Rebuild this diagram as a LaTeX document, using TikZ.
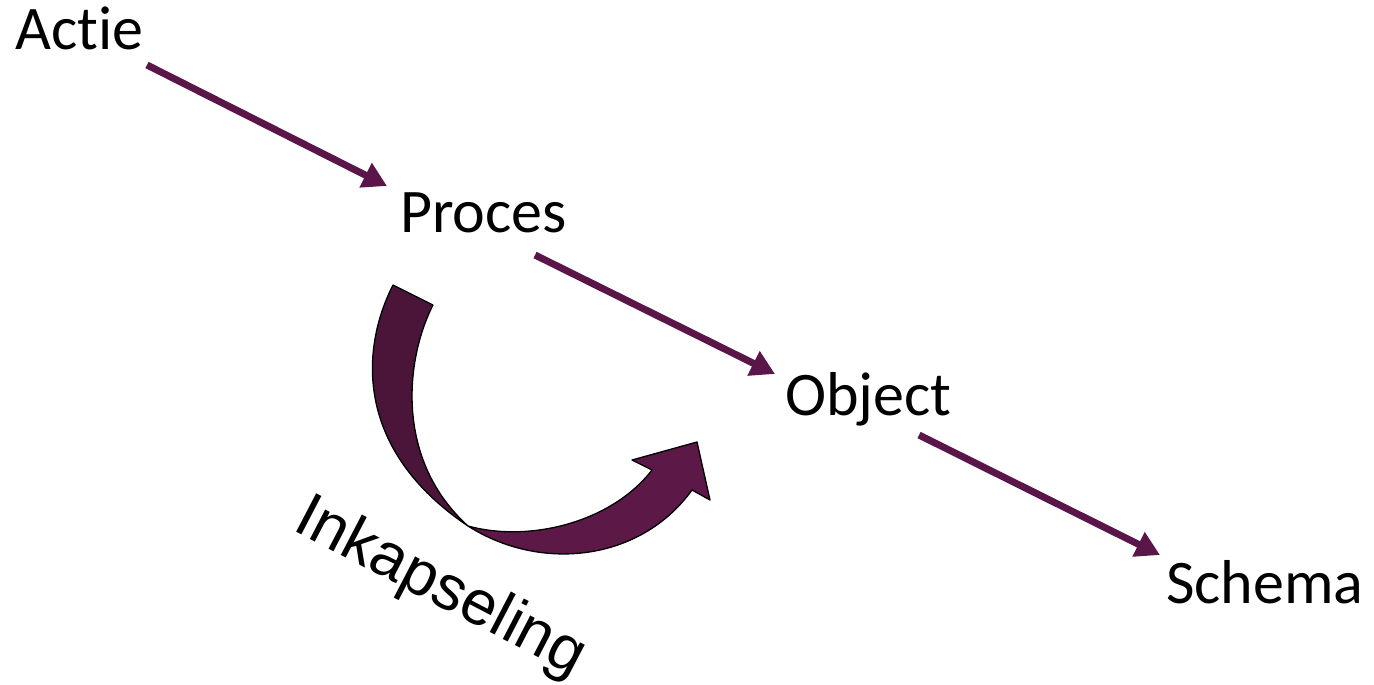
\documentclass[tikz,border=0pt]{standalone}
\usepackage{fontspec}
\setmainfont{Carlito}[Ligatures=CommonOff]
\newfontfamily\arialfont{Liberation Sans}
\usetikzlibrary{arrows.meta}

\definecolor{plum}{RGB}{90,22,72}
\definecolor{plumdark}{RGB}{74,21,56}
\definecolor{plumlight}{RGB}{92,24,70}

\tikzset{
  lbl/.style={anchor=base west, inner sep=0pt, font=\fontsize{62}{70}\selectfont},
  flow/.style={draw=plum, line width=7pt, -{Triangle[length=24pt,width=26pt]}},
  band/.style={draw=black, line width=1.3pt, line join=round},
}

\begin{document}
\begin{tikzpicture}[x=1pt, y=-1pt]
  \fill[white] (0,0) rectangle (1374,685);
  \useasboundingbox (0,0) rectangle (1374,685);

  % stage labels
  \node[lbl] (actie)  at (15,50)   {Actie};
  \node[lbl] (proces) at (400,232) {Proces};
  \node[lbl] (object) at (785,415) {Object};
  \node[lbl] (schema) at (1166,603) {Schema};

  % straight transitions
  \draw[flow] ([shift={(132,15)}]actie.base west)  -- ([shift={(-13,-46)}]proces.base west);
  \draw[flow] ([shift={(135,23)}]proces.base west) -- ([shift={(-10,-41)}]object.base west);
  \draw[flow] ([shift={(134,20)}]object.base west) -- ([shift={(-6,-48)}]schema.base west);

  % twisted ribbon arrow: descending back face
  \filldraw[band, fill=plumdark]
    (393,285) -- (433,305)
    .. controls (405,360) and (395,460) .. (468,526)
    .. controls (355,450) and (360,350) .. (393,285) -- cycle;
  % front face ending in the arrow head
  \filldraw[band, fill=plumlight]
    (468,526) .. controls (530,543) and (612,522) .. (652,470)
    -- (632,460) -- (697,442) -- (710,500) -- (692,490)
    .. controls (640,562) and (540,572) .. (468,526) -- cycle;

  \node[anchor=base west, inner sep=0pt, rotate=-27.5,
        font=\arialfont\fontsize{63}{72}\selectfont] (ink) at (291,529) {Inkapseling};
\end{tikzpicture}
\end{document}
